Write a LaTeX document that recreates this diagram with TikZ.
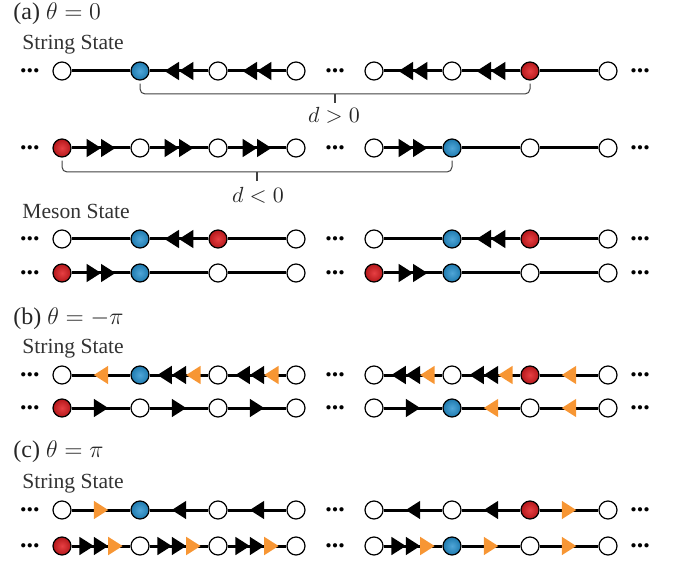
\documentclass[tikz,border=0pt]{standalone}
\usepackage{fontspec}
\setmainfont{Liberation Serif}
\usetikzlibrary{decorations.markings}

\definecolor{siteblue}{RGB}{36,144,206}
\definecolor{sitered}{RGB}{226,30,34}
\definecolor{fluxorange}{RGB}{247,150,52}

\newcommand{\TriL}[2]{\fill[#2] (#1+3.6pt,4.6pt) -- (#1-3.6pt,0pt) -- (#1+3.6pt,-4.6pt) -- cycle;}
\newcommand{\TriR}[2]{\fill[#2] (#1-3.6pt,4.6pt) -- (#1+3.6pt,0pt) -- (#1-3.6pt,-4.6pt) -- cycle;}

\tikzset{
  site/.style={circle, draw, line width=0.6pt, minimum size=9pt, inner sep=0pt, fill=white},
  bsite/.style={site, inner color=siteblue!80!white, outer color=siteblue!85!black},
  rsite/.style={site, inner color=sitered!85!white, outer color=sitered!80!black},
  link/.style={line width=1.5pt},
  dots/.style={font=\fontsize{13}{13}\bfseries\selectfont, inner sep=0pt},
  ttl/.style={anchor=base west, inner sep=0pt, text=black!85, font=\fontsize{12}{14}\selectfont},
  lbl/.style={anchor=base west, inner sep=0pt, text=black!80, font=\fontsize{10.8}{13}\selectfont},
  dlbl/.style={anchor=base, inner sep=0pt, text=black!85, font=\fontsize{10.8}{13}\selectfont},
  dbrace/.style={draw=black!75, line width=0.5pt, rounded corners=2.5pt},
  dtip/.style={draw=black!75, line width=0.8pt},
  oneL/.style={postaction={decorate, decoration={markings, mark=at position 0.5 with {\TriL{0pt}{black}}}}},
  twoL/.style={postaction={decorate, decoration={markings, mark=at position 0.5 with {\TriL{-3.6pt}{black}\TriL{3.6pt}{black}}}}},
  twoLo/.style={postaction={decorate, decoration={markings, mark=at position 0.5 with {\TriL{-7.2pt}{black}\TriL{0pt}{black}\TriL{7.2pt}{fluxorange}}}}},
  orL/.style={postaction={decorate, decoration={markings, mark=at position 0.5 with {\TriL{0pt}{fluxorange}}}}},
  oneR/.style={postaction={decorate, decoration={markings, mark=at position 0.5 with {\TriR{0pt}{black}}}}},
  twoR/.style={postaction={decorate, decoration={markings, mark=at position 0.5 with {\TriR{-3.6pt}{black}\TriR{3.6pt}{black}}}}},
  twoRo/.style={postaction={decorate, decoration={markings, mark=at position 0.5 with {\TriR{-7.2pt}{black}\TriR{0pt}{black}\TriR{7.2pt}{fluxorange}}}}},
  orR/.style={postaction={decorate, decoration={markings, mark=at position 0.5 with {\TriR{0pt}{fluxorange}}}}}
}

\begin{document}
\begin{tikzpicture}[x=0.5pt, y=-0.5pt]
    \useasboundingbox (0,0) rectangle (680,561);

    \node[ttl] (ta) at (13,20) {(a) $\theta=0$};
    \node[lbl] (sa) at (22,50) {String State};
    \node[lbl] (ma) at (22,219) {Meson State};
    \node[ttl] (tb) at (13,325) {(b) $\theta=-\pi$};
    \node[lbl] (sb) at (22,353) {String State};
    \node[ttl] (tc) at (13,457) {(c) $\theta=\pi$};
    \node[lbl] (sc) at (22,488) {String State};

    % (a) string, d > 0
    \node[site] (A1) at (62,71) {};  \node[bsite] (A2) at (140,71) {};
    \node[site] (A3) at (218,71) {}; \node[site] (A4) at (296,71) {};
    \node[site] (A5) at (374,71) {}; \node[site] (A6) at (452,71) {};
    \node[rsite] (A7) at (530,71) {}; \node[site] (A8) at (608,71) {};
    \node[dots] (A0) at (30,71) {...}; \node[dots] (Am) at (335,71) {...}; \node[dots] (A9) at (640,71) {...};

    \draw[link] (A1) -- (A2);
    \draw[link, twoL] (A2) -- (A3);
    \draw[link, twoL] (A3) -- (A4);
    \draw[link, twoL] (A5) -- (A6);
    \draw[link, twoL] (A6) -- (A7);
    \draw[link] (A7) -- (A8);

    \coordinate (Ab) at (335,94);
    \draw[dbrace] ([yshift=-1.5pt]A2.south) |- (Ab) -| ([yshift=-1.5pt]A7.south);
    \draw[dtip] (Ab) -- ++(0,9);
    \node[dlbl] (dpos) at (334,123) {$d>0$};

    % (a) string, d < 0
    \node[rsite] (B1) at (62,148) {}; \node[site] (B2) at (140,148) {};
    \node[site] (B3) at (218,148) {}; \node[site] (B4) at (296,148) {};
    \node[site] (B5) at (374,148) {}; \node[bsite] (B6) at (452,148) {};
    \node[site] (B7) at (530,148) {}; \node[site] (B8) at (608,148) {};
    \node[dots] (B0) at (30,148) {...}; \node[dots] (Bm) at (335,148) {...}; \node[dots] (B9) at (640,148) {...};

    \draw[link, twoR] (B1) -- (B2);
    \draw[link, twoR] (B2) -- (B3);
    \draw[link, twoR] (B3) -- (B4);
    \draw[link, twoR] (B5) -- (B6);
    \draw[link] (B6) -- (B7);
    \draw[link] (B7) -- (B8);

    \coordinate (Bb) at (257,172);
    \draw[dbrace] ([yshift=-1.5pt]B1.south) |- (Bb) -| ([yshift=-1.5pt]B6.south);
    \draw[dtip] (Bb) -- ++(0,9);
    \node[dlbl] (dneg) at (258,203) {$d<0$};

    % (a) meson
    \node[site] (C1) at (62,239) {};  \node[bsite] (C2) at (140,239) {};
    \node[rsite] (C3) at (218,239) {}; \node[site] (C4) at (296,239) {};
    \node[site] (C5) at (374,239) {}; \node[bsite] (C6) at (452,239) {};
    \node[rsite] (C7) at (530,239) {}; \node[site] (C8) at (608,239) {};
    \node[dots] (C0) at (30,239) {...}; \node[dots] (Cm) at (335,239) {...}; \node[dots] (C9) at (640,239) {...};

    \draw[link] (C1) -- (C2);
    \draw[link, twoL] (C2) -- (C3);
    \draw[link] (C3) -- (C4);
    \draw[link] (C5) -- (C6);
    \draw[link, twoL] (C6) -- (C7);
    \draw[link] (C7) -- (C8);

    \node[rsite] (D1) at (62,273) {}; \node[bsite] (D2) at (140,273) {};
    \node[site] (D3) at (218,273) {}; \node[site] (D4) at (296,273) {};
    \node[rsite] (D5) at (374,273) {}; \node[bsite] (D6) at (452,273) {};
    \node[site] (D7) at (530,273) {}; \node[site] (D8) at (608,273) {};
    \node[dots] (D0) at (30,273) {...}; \node[dots] (Dm) at (335,273) {...}; \node[dots] (D9) at (640,273) {...};

    \draw[link, twoR] (D1) -- (D2);
    \draw[link] (D2) -- (D3);
    \draw[link] (D3) -- (D4);
    \draw[link, twoR] (D5) -- (D6);
    \draw[link] (D6) -- (D7);
    \draw[link] (D7) -- (D8);

    % (b)
    \node[site] (E1) at (62,375) {};  \node[bsite] (E2) at (140,375) {};
    \node[site] (E3) at (218,375) {}; \node[site] (E4) at (296,375) {};
    \node[site] (E5) at (374,375) {}; \node[site] (E6) at (452,375) {};
    \node[rsite] (E7) at (530,375) {}; \node[site] (E8) at (608,375) {};
    \node[dots] (E0) at (30,375) {...}; \node[dots] (Em) at (335,375) {...}; \node[dots] (E9) at (640,375) {...};

    \draw[link, orL] (E1) -- (E2);
    \draw[link, twoLo] (E2) -- (E3);
    \draw[link, twoLo] (E3) -- (E4);
    \draw[link, twoLo] (E5) -- (E6);
    \draw[link, twoLo] (E6) -- (E7);
    \draw[link, orL] (E7) -- (E8);

    \node[rsite] (F1) at (62,408) {}; \node[site] (F2) at (140,408) {};
    \node[site] (F3) at (218,408) {}; \node[site] (F4) at (296,408) {};
    \node[site] (F5) at (374,408) {}; \node[bsite] (F6) at (452,408) {};
    \node[site] (F7) at (530,408) {}; \node[site] (F8) at (608,408) {};
    \node[dots] (F0) at (30,408) {...}; \node[dots] (Fm) at (335,408) {...}; \node[dots] (F9) at (640,408) {...};

    \draw[link, oneR] (F1) -- (F2);
    \draw[link, oneR] (F2) -- (F3);
    \draw[link, oneR] (F3) -- (F4);
    \draw[link, oneR] (F5) -- (F6);
    \draw[link, orL] (F6) -- (F7);
    \draw[link, orL] (F7) -- (F8);

    % (c)
    \node[site] (G1) at (62,510) {};  \node[bsite] (G2) at (140,510) {};
    \node[site] (G3) at (218,510) {}; \node[site] (G4) at (296,510) {};
    \node[site] (G5) at (374,510) {}; \node[site] (G6) at (452,510) {};
    \node[rsite] (G7) at (530,510) {}; \node[site] (G8) at (608,510) {};
    \node[dots] (G0) at (30,510) {...}; \node[dots] (Gm) at (335,510) {...}; \node[dots] (G9) at (640,510) {...};

    \draw[link, orR] (G1) -- (G2);
    \draw[link, oneL] (G2) -- (G3);
    \draw[link, oneL] (G3) -- (G4);
    \draw[link, oneL] (G5) -- (G6);
    \draw[link, oneL] (G6) -- (G7);
    \draw[link, orR] (G7) -- (G8);

    \node[rsite] (H1) at (62,546) {}; \node[site] (H2) at (140,546) {};
    \node[site] (H3) at (218,546) {}; \node[site] (H4) at (296,546) {};
    \node[site] (H5) at (374,546) {}; \node[bsite] (H6) at (452,546) {};
    \node[site] (H7) at (530,546) {}; \node[site] (H8) at (608,546) {};
    \node[dots] (H0) at (30,546) {...}; \node[dots] (Hm) at (335,546) {...}; \node[dots] (H9) at (640,546) {...};

    \draw[link, twoRo] (H1) -- (H2);
    \draw[link, twoRo] (H2) -- (H3);
    \draw[link, twoRo] (H3) -- (H4);
    \draw[link, twoRo] (H5) -- (H6);
    \draw[link, orR] (H6) -- (H7);
    \draw[link, orR] (H7) -- (H8);
\end{tikzpicture}
\end{document}
